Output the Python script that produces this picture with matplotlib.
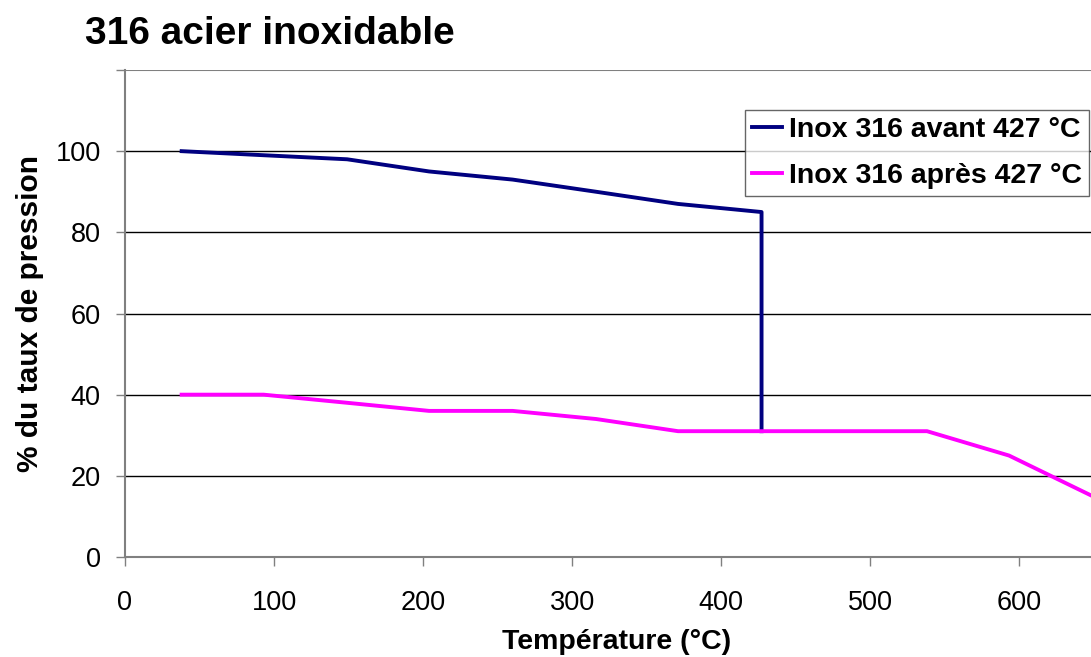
import matplotlib.pyplot as plt

plt.rcParams["font.family"] = ["Liberation Sans", "DejaVu Sans"]

# temperatures (°C) and % of pressure rating
temp_avant = [38, 93, 149, 204, 260, 316, 371, 427, 427]
taux_avant = [100, 99, 98, 95, 93, 90, 87, 85, 31]
temp_apres = [38, 93, 149, 204, 260, 316, 371, 427, 482, 538, 593, 649]
taux_apres = [40, 40, 38, 36, 36, 34, 31, 31, 31, 31, 25, 15]

x_ticks = [0, 100, 200, 300, 400, 500, 600]
y_ticks = [0, 20, 40, 60, 80, 100, 120]
y_ticklabels = ["0", "20", "40", "60", "80", "100", ""]

fig = plt.figure(figsize=(10.91, 6.57), dpi=100)
ax = fig.add_axes([125 / 1091, 1 - 557 / 657, 1 - 125 / 1091, (557 - 70) / 657])

for y in y_ticks[1:-1]:
    ax.axhline(y, color="black", lw=1.0, zorder=1)
ax.axhline(120, color="#808080", lw=1.5, zorder=1)

ax.plot(temp_avant, taux_avant, color="#000080", lw=2.8, label="Inox 316 avant 427 °C", zorder=3)
ax.plot(temp_apres, taux_apres, color="#FF00FF", lw=2.8, label="Inox 316 après 427 °C", zorder=3)

ax.set_xlim(0, 648)
ax.set_ylim(0, 120)
ax.set_xticks(x_ticks)
ax.set_yticks(y_ticks)
ax.set_yticklabels(y_ticklabels)
ax.tick_params(labelsize=19.5, length=6.5, width=1, color="#808080")
ax.tick_params(axis="x", pad=17)
ax.tick_params(axis="y", pad=11)
for s in ["top", "right"]:
    ax.spines[s].set_visible(False)
for s in ["left", "bottom"]:
    ax.spines[s].set_color("#808080")
    ax.spines[s].set_linewidth(1.5)

ax.set_xlabel("Température (°C)", fontsize=20.5, fontweight="bold")
ax.xaxis.set_label_coords(0.509, -0.148)
ax.set_ylabel("% du taux de pression", fontsize=21.5, fontweight="bold", labelpad=8)
fig.text(85 / 1091, 1 - 44 / 657, "316 acier inoxidable", fontsize=28, fontweight="bold",
         ha="left", va="baseline")

leg = ax.legend(loc="upper left", bbox_to_anchor=(745 / 1091, 1 - 110 / 657),
                bbox_transform=fig.transFigure, fontsize=20.5, frameon=True, fancybox=False,
                edgecolor="#404040", handlelength=1.05, handletextpad=0.25,
                borderpad=0.25, labelspacing=0.7, borderaxespad=0)
leg.get_frame().set_linewidth(1.0)
for t in leg.get_texts():
    t.set_fontweight("bold")

plt.savefig("out.png", dpi=100)
